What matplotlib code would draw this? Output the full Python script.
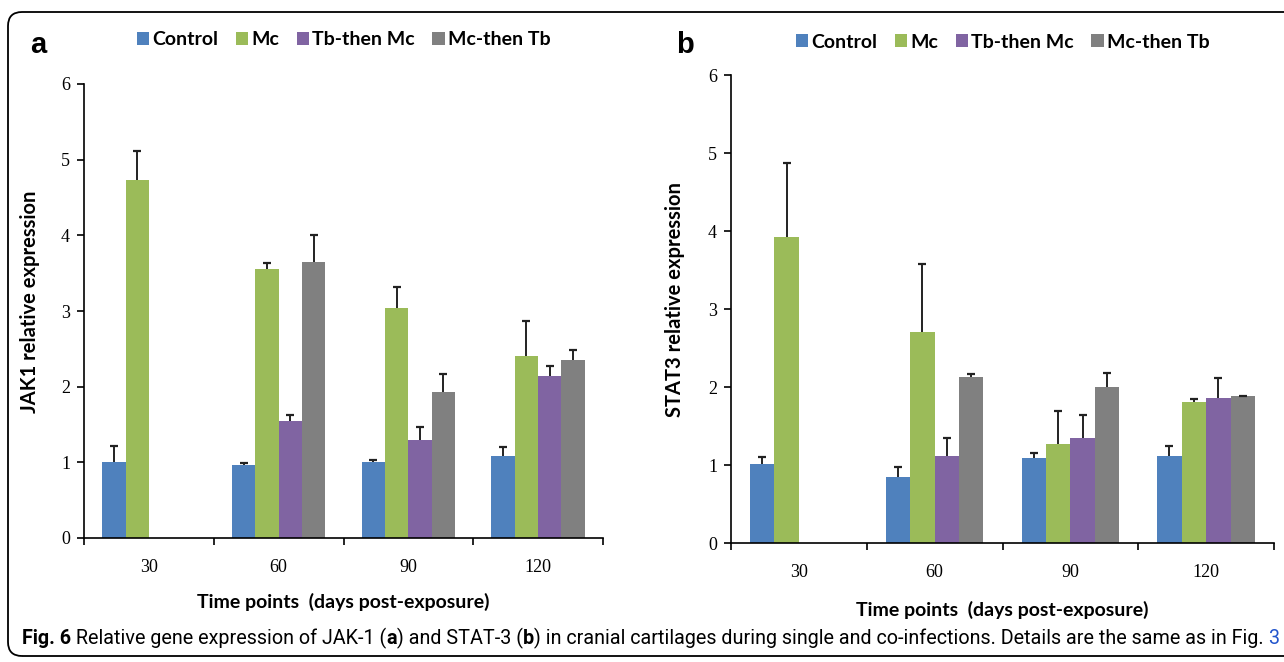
import numpy as np
import matplotlib
matplotlib.use('Agg')
import matplotlib.pyplot as plt
from matplotlib import font_manager
from matplotlib.patches import FancyBboxPatch
from matplotlib.transforms import IdentityTransform

# ---- data ----
days = ['30', '60', '90', '120']
series = ['Control', 'Mc', 'Tb-then Mc', 'Mc-then Tb']
colors = ['#4F81BD', '#9BBB59', '#8064A2', '#808080']
nan = np.nan

jak_control = [1.00, 0.96, 1.00, 1.09]
jak_control_err = [0.21, 0.03, 0.03, 0.11]
jak_mc = [4.73, 3.55, 3.04, 2.41]
jak_mc_err = [0.38, 0.08, 0.28, 0.46]
jak_tb_mc = [nan, 1.54, 1.29, 2.14]
jak_tb_mc_err = [nan, 0.08, 0.18, 0.13]
jak_mc_tb = [nan, 3.65, 1.93, 2.35]
jak_mc_tb_err = [nan, 0.36, 0.24, 0.14]

stat_control = [1.01, 0.85, 1.09, 1.12]
stat_control_err = [0.09, 0.12, 0.06, 0.13]
stat_mc = [3.92, 2.70, 1.27, 1.81]
stat_mc_err = [0.95, 0.88, 0.42, 0.04]
stat_tb_mc = [nan, 1.12, 1.35, 1.86]
stat_tb_mc_err = [nan, 0.23, 0.29, 0.25]
stat_mc_tb = [nan, 2.13, 2.00, 1.88]
stat_mc_tb_err = [nan, 0.04, 0.18, 0.01]

caption = [("Fig. 6", 'bold', 'black'),
           (" Relative gene expression of JAK-1 (", 'normal', 'black'),
           ("a", 'bold', 'black'),
           (") and STAT-3 (", 'normal', 'black'),
           ("b", 'bold', 'black'),
           (") in cranial cartilages during single and co-infections. Details are the same as in Fig. ", 'normal', 'black'),
           ("3", 'normal', '#2255CC')]


def pick_font(names):
    for n in names:
        try:
            font_manager.findfont(n, fallback_to_default=False)
            return n
        except ValueError:
            pass
    return 'DejaVu Sans'


SANS = pick_font(['Lato', 'Open Sans', 'DejaVu Sans'])
SERIF = pick_font(['Liberation Serif', 'DejaVu Serif'])
NARROW = pick_font(['Liberation Sans Narrow', 'Roboto', 'DejaVu Sans'])
ARIAL = pick_font(['Liberation Sans', 'DejaVu Sans'])

W, H = 1284, 662
fig = plt.figure(figsize=(W / 100, H / 100), dpi=100)


def px_axes(x0, x1, ybot, ytop):
    return fig.add_axes([x0 / W, (H - ybot) / H, (x1 - x0) / W, (ybot - ytop) / H])


def draw_panel(ax, vals, errs, ylabel, lab_y, leg_y):
    x = np.arange(len(days))
    bw = 0.18
    for i, (v, e) in enumerate(zip(vals, errs)):
        pos = x + (i - 1.5) * bw
        v = np.array(v)
        e = np.array(e)
        ax.bar(pos, v, bw, color=colors[i], label=series[i], zorder=2)
        # upper error bar only, cap on top
        ax.vlines(pos, v, v + e, color='#222222', linewidth=1.4, zorder=3)
        ax.plot(pos, v + e, linestyle='none', marker='_', markersize=6,
                markeredgewidth=1.6, color='#222222', zorder=3)
    ax.set_xlim(-0.5, len(days) - 0.5)
    ax.set_ylim(0, 6)
    ax.set_yticks(range(7))
    ax.set_xticks(x)
    ax.set_xticklabels(days)
    ax.set_xticks(np.arange(-0.5, len(days)), minor=True)
    ax.tick_params(axis='x', which='major', length=0, pad=15)
    ax.tick_params(axis='x', which='minor', length=5, width=1.2, direction='out')
    ax.tick_params(axis='y', length=5, width=1.2, direction='out', pad=5)
    for t in ax.get_xticklabels() + ax.get_yticklabels():
        t.set_fontfamily(SERIF)
        t.set_fontsize(13)
    for s in ['top', 'right']:
        ax.spines[s].set_visible(False)
    for s in ['left', 'bottom']:
        ax.spines[s].set_linewidth(1.2)
    ax.set_xlabel('Time points  (days post-exposure)', fontfamily=SANS,
                  fontweight='bold', fontsize=14)
    ax.xaxis.set_label_coords(0.5, lab_y)
    ax.set_ylabel(ylabel, fontfamily=SANS, fontweight='bold', fontsize=14.5)
    ax.yaxis.set_label_coords(-0.085, 0.52)
    ax.legend(loc='center', bbox_to_anchor=(0.5, leg_y), ncol=4, frameon=False,
              handlelength=0.65, handleheight=0.65, handletextpad=0.15,
              columnspacing=0.9, prop={'family': SANS, 'weight': 'bold', 'size': 14})


ax1 = px_axes(84, 603, 538, 84)
draw_panel(ax1, [jak_control, jak_mc, jak_tb_mc, jak_mc_tb],
           [jak_control_err, jak_mc_err, jak_tb_mc_err, jak_mc_tb_err],
           'JAK1 relative expression', -0.122, 1.097)

ax2 = px_axes(731, 1274, 543, 75)
draw_panel(ax2, [stat_control, stat_mc, stat_tb_mc, stat_mc_tb],
           [stat_control_err, stat_mc_err, stat_tb_mc_err, stat_mc_tb_err],
           'STAT3 relative expression', -0.123, 1.07)

fig.text(30 / W, 1 - 45 / H, 'a', fontfamily=ARIAL, fontweight='bold', fontsize=21,
         va='center', ha='left')
fig.text(676 / W, 1 - 45 / H, 'b', fontfamily=ARIAL, fontweight='bold', fontsize=21,
         va='center', ha='left')

# rounded frame around the whole figure
frame = FancyBboxPatch((8, 6), 1320, 644, boxstyle='round,pad=0,rounding_size=14',
                       transform=IdentityTransform(), fill=False, edgecolor='black',
                       linewidth=1.3)
fig.patches.append(frame)

# caption, built piece by piece
fig.canvas.draw()
r = fig.canvas.get_renderer()
cap_size = 12.5


def text_w(s, weight):
    # width including leading/trailing spaces
    t = fig.text(0, 0, 'x' + s + 'x', fontfamily=NARROW, fontweight=weight, fontsize=cap_size)
    w = t.get_window_extent(renderer=r).width
    t.set_text('xx')
    w -= t.get_window_extent(renderer=r).width
    t.remove()
    return w


total = sum(text_w(s, w) for s, w, c in caption)
cap_size *= 1256 / total
xpos = 22
for s, wgt, col in caption:
    fig.text(xpos / W, (H - 638) / H, s, fontfamily=NARROW, fontweight=wgt, color=col,
             fontsize=cap_size, va='center', ha='left')
    xpos += text_w(s, wgt)

fig.savefig('out.png', dpi=100)
